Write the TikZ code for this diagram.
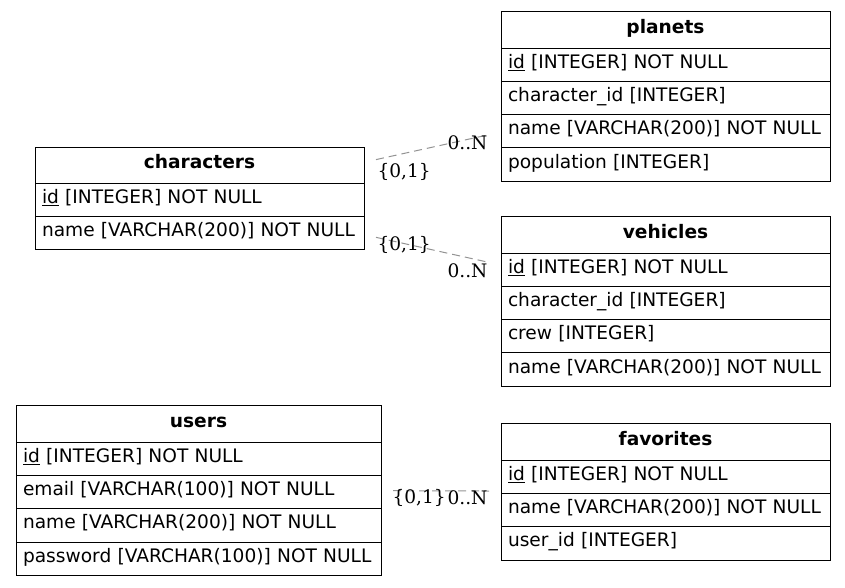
\documentclass[tikz,border=0pt]{standalone}
\usepackage{fontspec}
\setmainfont{DejaVu Sans}
\newfontfamily\lblfont{DejaVu Serif}
\usetikzlibrary{fit}
\begin{document}
\begin{tikzpicture}[x=1pt,y=-1pt,
  cell/.style={draw=black, line width=1pt, anchor=north west, inner xsep=7pt, inner ysep=0pt,
    outer sep=0pt, align=left, text height=14.6pt, text depth=7.4pt, minimum height=33.33pt,
    font=\fontsize{18.6}{22}\selectfont},
  hdr/.style={cell, align=center, minimum height=37pt, font=\fontsize{18.6}{22}\selectfont\bfseries},
  w329/.style={text width=315pt},
  w365/.style={text width=351pt},
  tbl/.style={inner sep=12pt, outer sep=0pt, draw=none},
  rel/.style={draw=gray!85, line width=1pt, dash pattern=on 8pt off 5pt},
  card/.style={inner sep=0pt, font=\lblfont\fontsize{18.6}{22}\selectfont, text=black}
]
\useasboundingbox (0,0) rectangle (845,587);

% planets
\node[hdr,w329] (p0) at (501,11) {planets};
\node[cell,w329] (p1) at (p0.south west) {\underline{id} [INTEGER] NOT NULL};
\node[cell,w329] (p2) at (p1.south west) {character\_id [INTEGER]};
\node[cell,w329] (p3) at (p2.south west) {name [VARCHAR(200)] NOT NULL};
\node[cell,w329] (p4) at (p3.south west) {population [INTEGER]};
\node[tbl, fit=(p0)(p4)] (planets) {};

% characters
\node[hdr,w329,minimum height=36pt] (c0) at (35,147) {characters};
\node[cell,w329] (c1) at (c0.south west) {\underline{id} [INTEGER] NOT NULL};
\node[cell,w329] (c2) at (c1.south west) {name [VARCHAR(200)] NOT NULL};
\node[tbl, fit=(c0)(c2)] (characters) {};

% vehicles
\node[hdr,w329] (v0) at (501,216) {vehicles};
\node[cell,w329] (v1) at (v0.south west) {\underline{id} [INTEGER] NOT NULL};
\node[cell,w329] (v2) at (v1.south west) {character\_id [INTEGER]};
\node[cell,w329] (v3) at (v2.south west) {crew [INTEGER]};
\node[cell,w329] (v4) at (v3.south west) {name [VARCHAR(200)] NOT NULL};
\node[tbl, fit=(v0)(v4)] (vehicles) {};

% users
\node[hdr,w365] (u0) at (16,405) {users};
\node[cell,w365] (u1) at (u0.south west) {\underline{id} [INTEGER] NOT NULL};
\node[cell,w365] (u2) at (u1.south west) {email [VARCHAR(100)] NOT NULL};
\node[cell,w365] (u3) at (u2.south west) {name [VARCHAR(200)] NOT NULL};
\node[cell,w365] (u4) at (u3.south west) {password [VARCHAR(100)] NOT NULL};
\node[tbl, fit=(u0)(u4)] (users) {};

% favorites
\node[hdr,w329] (f0) at (501,423) {favorites};
\node[cell,w329] (f1) at (f0.south west) {\underline{id} [INTEGER] NOT NULL};
\node[cell,w329] (f2) at (f1.south west) {name [VARCHAR(200)] NOT NULL};
\node[cell,w329] (f3) at (f2.south west) {user\_id [INTEGER]};
\node[tbl, fit=(f0)(f3)] (favorites) {};

% relations
\draw[rel] (characters) -- (planets)
  node[card, pos=0, anchor=base west, xshift=1pt, yshift=-17.5pt] (l1a) {\{0,1\}}
  node[card, pos=1, anchor=base east, xshift=-1pt, yshift=-15pt] (l1b) {0..N};
\draw[rel] (characters) -- (vehicles)
  node[card, pos=0, anchor=base west, xshift=1pt, yshift=-13.5pt] (l2a) {\{0,1\}}
  node[card, pos=1, anchor=base east, xshift=-1pt, yshift=-15pt] (l2b) {0..N};
\draw[rel] (users) -- (favorites)
  node[card, pos=0, anchor=base west, xshift=-1pt, yshift=-13pt] (l3a) {\{0,1\}}
  node[card, pos=1, anchor=base east, xshift=-1pt, yshift=-13pt] (l3b) {0..N};
\end{tikzpicture}
\end{document}
